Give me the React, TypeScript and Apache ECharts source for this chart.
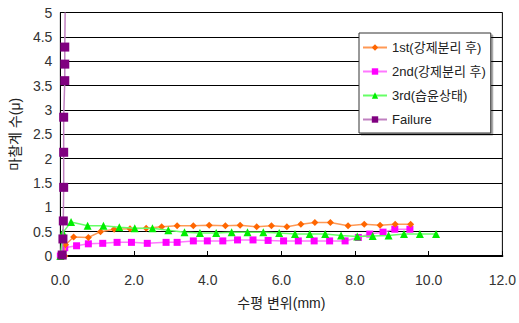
import React, { useEffect, useRef } from "react";
import * as echarts from "echarts";

const seriesNames = ["1st(강제분리 후)", "2nd(강제분리 후)", "3rd(습윤상태)", "Failure"];

const first: [number, number][] = [
  [0.12, 0], [0.14, 0.23], [0.36, 0.39], [0.76, 0.38], [1.09, 0.5], [1.46, 0.55], [1.89, 0.56],
  [2.33, 0.57], [2.75, 0.6], [3.17, 0.62], [3.61, 0.62], [4.04, 0.63], [4.48, 0.62], [4.88, 0.63],
  [5.33, 0.6], [5.73, 0.62], [6.15, 0.6], [6.53, 0.65], [6.91, 0.69], [7.33, 0.69], [7.81, 0.62],
  [8.25, 0.65], [8.68, 0.63], [9.09, 0.65], [9.51, 0.65],
];

const second: [number, number][] = [
  [0.0, 0.0], [0.12, 0.17], [0.44, 0.21], [0.76, 0.25], [1.15, 0.26], [1.54, 0.28], [1.93, 0.28],
  [2.36, 0.26], [2.87, 0.28], [3.17, 0.28], [3.61, 0.31], [3.99, 0.31], [4.41, 0.31], [4.81, 0.33],
  [5.23, 0.33], [5.64, 0.32], [6.06, 0.31], [6.46, 0.31], [6.89, 0.31], [7.31, 0.31], [7.73, 0.31],
  [8.09, 0.38], [8.4, 0.45], [8.76, 0.49], [9.08, 0.55], [9.49, 0.55],
];

const third: [number, number][] = [
  [0.0, 0.0], [0.07, 0.48], [0.29, 0.7], [0.74, 0.62], [1.17, 0.62], [1.6, 0.59], [2.02, 0.57],
  [2.5, 0.57], [2.93, 0.53], [3.37, 0.49], [3.79, 0.47], [4.23, 0.47], [4.65, 0.49], [5.08, 0.49],
  [5.51, 0.49], [5.94, 0.47], [6.37, 0.45], [6.77, 0.45], [7.19, 0.45], [7.62, 0.42], [8.06, 0.4],
  [8.48, 0.41], [8.91, 0.42], [9.33, 0.45], [9.76, 0.45], [10.2, 0.45],
];

const failure: [number, number][] = [
  [0.05, 0.02], [0.07, 0.35], [0.08, 0.72], [0.09, 1.41], [0.09, 2.13], [0.09, 2.85],
  [0.12, 3.6], [0.12, 3.94], [0.12, 4.29], [0.13, 5.0],
];

const xAxisName = "수평 변위(mm)";
const yAxisName = "마찰계 수(μ)";

const FONT = "'Liberation Sans', 'Noto Sans CJK KR', sans-serif";

export default function App() {
  const ref = useRef<HTMLDivElement>(null);
  useEffect(() => {
    if (!ref.current) return;
    const chart = echarts.init(ref.current, undefined, { renderer: "svg" });
    const mk = (
      name: string,
      data: [number, number][],
      symbol: string,
      size: number,
      lineColor: string,
      markColor: string,
      z: number
    ) => ({
      name,
      type: "line",
      data: data.map((d, i) =>
        name === "Failure" && i === data.length - 1 ? { value: d, symbol: "none" } : d
      ),
      symbol,
      symbolSize: size,
      showAllSymbol: true,
      z,
      lineStyle: { color: lineColor, width: 1.5 },
      itemStyle: { color: markColor, borderWidth: 0 },
    });
    chart.setOption({
      animation: false,
      backgroundColor: "#fff",
      textStyle: { fontFamily: FONT },
      grid: { left: 56.5, right: 13.5, top: 12.5, bottom: 67, show: true, borderColor: "#000", borderWidth: 1 },
      legend: {
        orient: "vertical",
        left: 359,
        top: 33,
        padding: [7, 5, 6, 3],
        itemGap: 9,
        itemWidth: 24,
        itemHeight: 8,
        backgroundColor: "#fff",
        borderColor: "#333",
        borderWidth: 1,
        shadowColor: "rgba(0,0,0,0.35)",
        shadowOffsetX: 2,
        shadowOffsetY: 2,
        shadowBlur: 0,
        textStyle: { fontSize: 13, color: "#222", fontFamily: FONT, lineHeight: 15 },
        data: seriesNames,
      },
      xAxis: {
        type: "value",
        min: 0,
        max: 12,
        interval: 2,
        name: xAxisName,
        nameLocation: "middle",
        nameGap: 40,
        nameTextStyle: { fontSize: 14, color: "#222", fontFamily: FONT },
        axisLine: { show: true, onZero: false, lineStyle: { color: "#000", width: 2 } },
        axisTick: { show: true, inside: true, length: 5, lineStyle: { color: "#000" } },
        axisLabel: { fontSize: 14, color: "#333", margin: 17, formatter: (v: number) => v.toFixed(1) },
        splitLine: { show: false },
      },
      yAxis: {
        type: "value",
        min: 0,
        max: 5,
        interval: 0.5,
        name: yAxisName,
        nameLocation: "middle",
        nameGap: 37,
        nameRotate: 90,
        nameTextStyle: { fontSize: 14, color: "#222", fontFamily: FONT },
        axisLine: { show: true, lineStyle: { color: "#000", width: 1 } },
        axisTick: { show: false },
        axisLabel: { fontSize: 14, color: "#333", margin: 8 },
        splitLine: { show: true, lineStyle: { color: "#000", width: 1 } },
      },
      series: [
        mk(seriesNames[0], first, "diamond", 7, "#ff9955", "#ff6600", 3),
        mk(seriesNames[1], second, "rect", 7, "#ff77ff", "#ff00ff", 2),
        mk(seriesNames[2], third, "triangle", 8, "#66ff66", "#00ee00", 4),
        mk(seriesNames[3], failure, "rect", 9, "#c080c0", "#800080", 5),
      ],
    });
    return () => chart.dispose();
  }, []);
  return <div ref={ref} style={{ width: 519, height: 323, position: "absolute", left: 0, top: 0 }} />;
}
